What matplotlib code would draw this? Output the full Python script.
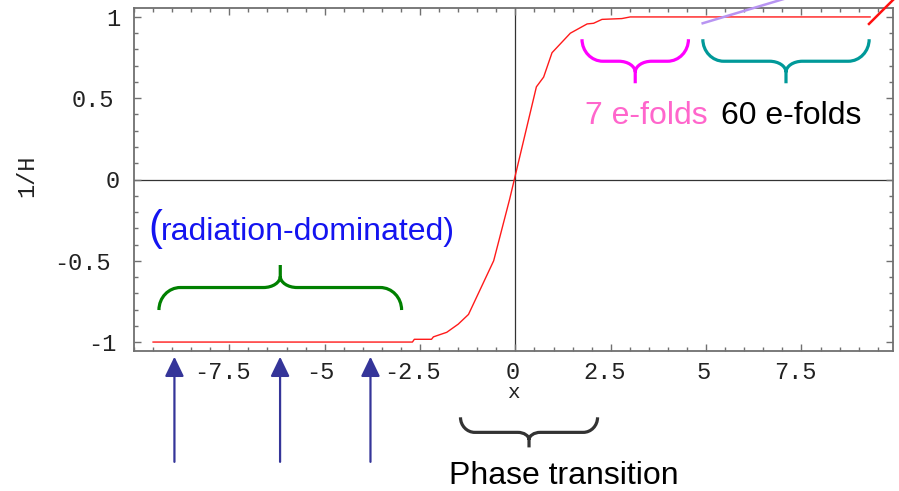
import matplotlib
matplotlib.use("Agg")
import matplotlib.pyplot as plt
from matplotlib.path import Path
from matplotlib.patches import PathPatch
from matplotlib.transforms import IdentityTransform, ScaledTranslation
import numpy as np

# --- data -------------------------------------------------------------
# 1/H across the transition (tanh-like step)
curve_x = [-9.5, -2.7, -2.65, -2.2, -2.15, -1.8, -1.5, -1.23, -0.57,
           -0.15, 0.55, 0.74, 0.96, 1.44, 1.88, 2.05, 2.27, 2.79, 3.01, 9.3]
curve_y = [-1.0, -1.0, -0.983, -0.983, -0.968, -0.94, -0.89, -0.83, -0.50,
           -0.12, 0.57, 0.63, 0.78, 0.90, 0.957, 0.961, 0.985, 0.99, 1.0, 1.0]

# steep rise at the right edge and the lavender reference slope
rise_x = [9.27, 9.95]
rise_y = [0.957, 1.116]
slope_x = [4.91, 7.2]
slope_y = [0.961, 1.122]

# arrows marking moments in the radiation era
arrow_x = [-8.94, -6.17, -3.80]

xtick_vals = [-7.5, -5, -2.5, 0, 2.5, 5, 7.5]
xtick_labels = ["-7.5", "-5", "-2.5", "0", "2.5", "5", "7.5"]
ytick_vals = [-1, -0.5, 0, 0.5, 1]
ytick_labels = ["-1", "-0.5", "0", "0.5", "1"]

# --- figure -----------------------------------------------------------
W, H = 899, 491
fig = plt.figure(figsize=(W / 100, H / 100), dpi=100)
ax = fig.add_axes([134 / W, 1 - 351 / H, 759 / W, 343 / H])
ax.set_xlim(-10, 9.9)
ax.set_ylim(-1.055, 1.055)

frame_col = "#707070"
for s in ax.spines.values():
    s.set_color(frame_col)
    s.set_linewidth(1.3)

mono = "Liberation Mono"
ax.set_xticks(xtick_vals, xtick_labels)
ax.set_yticks(ytick_vals, ytick_labels)
ax.set_xticks(np.arange(-10, 10.0, 0.5), minor=True)
ax.set_yticks(np.arange(-1.0, 1.01, 0.1), minor=True)
ax.tick_params(which="both", direction="in", top=True, right=True,
               color=frame_col, width=1.0)
ax.tick_params(which="major", length=4.8)
ax.tick_params(which="minor", length=2.6)
ax.tick_params(axis="x", which="major", pad=7)
ax.tick_params(axis="y", which="major", pad=10)
for lab in ax.get_xticklabels() + ax.get_yticklabels():
    lab.set_fontfamily(mono)
    lab.set_fontsize(17)
    lab.set_color("#222222")

# Courier-style labels sit a little left of their ticks, more so when longer
for lab, txt in zip(ax.get_xticklabels(), xtick_labels):
    dx = -(2.3 + 1.7 * (len(txt) - 1))
    lab.set_transform(lab.get_transform()
                      + ScaledTranslation(dx / 100, 0, fig.dpi_scale_trans))
for lab, txt in zip(ax.get_yticklabels(), ytick_labels):
    dx = -3.3 * (len(txt) - 1)
    lab.set_transform(lab.get_transform()
                      + ScaledTranslation(dx / 100, 0, fig.dpi_scale_trans))

ax.set_xlabel("x", fontfamily=mono, fontsize=15, color="#222222", va="center")
ax.xaxis.set_label_coords(0.4995, -0.121)
ax.set_ylabel("1/H", fontfamily=mono, fontsize=17, color="#222222", va="center")
ax.yaxis.set_label_coords(-0.141, 0.51)

# coordinate axes through the origin
ax.axhline(0, color="#333333", lw=0.9, zorder=1)
ax.axvline(0, color="#333333", lw=0.9, zorder=1)

ax.plot(curve_x, curve_y, color="#ff1a1a", lw=1.0, zorder=3)
ax.plot(rise_x, rise_y, color="#ff1010", lw=1.8, clip_on=False, zorder=3)
ax.plot(slope_x, slope_y, color="#b894f2", lw=1.8, clip_on=False, zorder=3)


def brace(x0, x1, y_arm, y_tip, color, lw=2.3):
    """Curly brace from x0 to x1, arms at y_arm, centre tip at y_tip."""
    (px0, pya), (px1, _), (pxc, pyt) = ax.transData.transform(
        [(x0, y_arm), (x1, y_arm), ((x0 + x1) / 2, y_tip)])
    h = (pyt - pya) / 2.0
    ya, ym = pya, pya + h
    r = abs(h) * 0.95
    tr_x = abs(h) * 0.75
    tr_y = h * 0.5
    k = 0.552
    verts = [
        (px0, ya),
        (px0, ya + k * h), (px0 + r * (1 - k), ym), (px0 + r, ym),
        (pxc - tr_x, ym),
        (pxc - tr_x * (1 - k), ym), (pxc, ym + tr_y * (1 - k)), (pxc, ym + tr_y),
        (pxc, pyt),
        (pxc, ym + tr_y),
        (pxc, ym + tr_y * (1 - k)), (pxc + tr_x * (1 - k), ym), (pxc + tr_x, ym),
        (px1 - r, ym),
        (px1 - r * (1 - k), ym), (px1, ya + k * h), (px1, ya),
    ]
    codes = [Path.MOVETO,
             Path.CURVE4, Path.CURVE4, Path.CURVE4,
             Path.LINETO,
             Path.CURVE4, Path.CURVE4, Path.CURVE4,
             Path.LINETO,
             Path.MOVETO,
             Path.CURVE4, Path.CURVE4, Path.CURVE4,
             Path.LINETO,
             Path.CURVE4, Path.CURVE4, Path.CURVE4]
    patch = PathPatch(Path(verts, codes), facecolor="none", edgecolor=color,
                      lw=lw, transform=IdentityTransform(), clip_on=False,
                      capstyle="butt", joinstyle="round", zorder=4)
    fig.add_artist(patch)


brace(1.746, 4.537, 0.863, 0.592, "#ff00ff")
brace(4.914, 9.275, 0.863, 0.592, "#009999")
brace(-9.346, -2.984, -0.803, -0.526, "#008000")
brace(-1.44, 2.154, -1.463, -1.648, "#333333")

sans = "Liberation Sans"
ax.text(3.44, 0.342, "7 e-folds", color="#ff66cc", fontsize=23,
        fontfamily=sans, ha="center", va="baseline")
ax.text(7.23, 0.342, "60 e-folds", color="black", fontsize=23,
        fontfamily=sans, ha="center", va="baseline")
ax.text(-9.61, -0.375, "(", color="#1414f0", fontsize=30,
        fontfamily=sans, ha="left", va="baseline")
ax.text(-9.29, -0.375, "radiation-dominated)", color="#1414f0", fontsize=23,
        fontfamily=sans, ha="left", va="baseline")
ax.text(1.28, -1.872, "Phase transition", color="black", fontsize=23,
        fontfamily=sans, ha="center", va="baseline", clip_on=False)

for ax_x in arrow_x:
    ax.annotate("", xy=(ax_x, -1.09), xytext=(ax_x, -1.737),
                arrowprops=dict(arrowstyle="-|>,head_length=0.6,head_width=0.29",
                                mutation_scale=20, color="#353599", lw=1.6,
                                shrinkA=0, shrinkB=0),
                annotation_clip=False)

fig.savefig("out.png", dpi=100)
